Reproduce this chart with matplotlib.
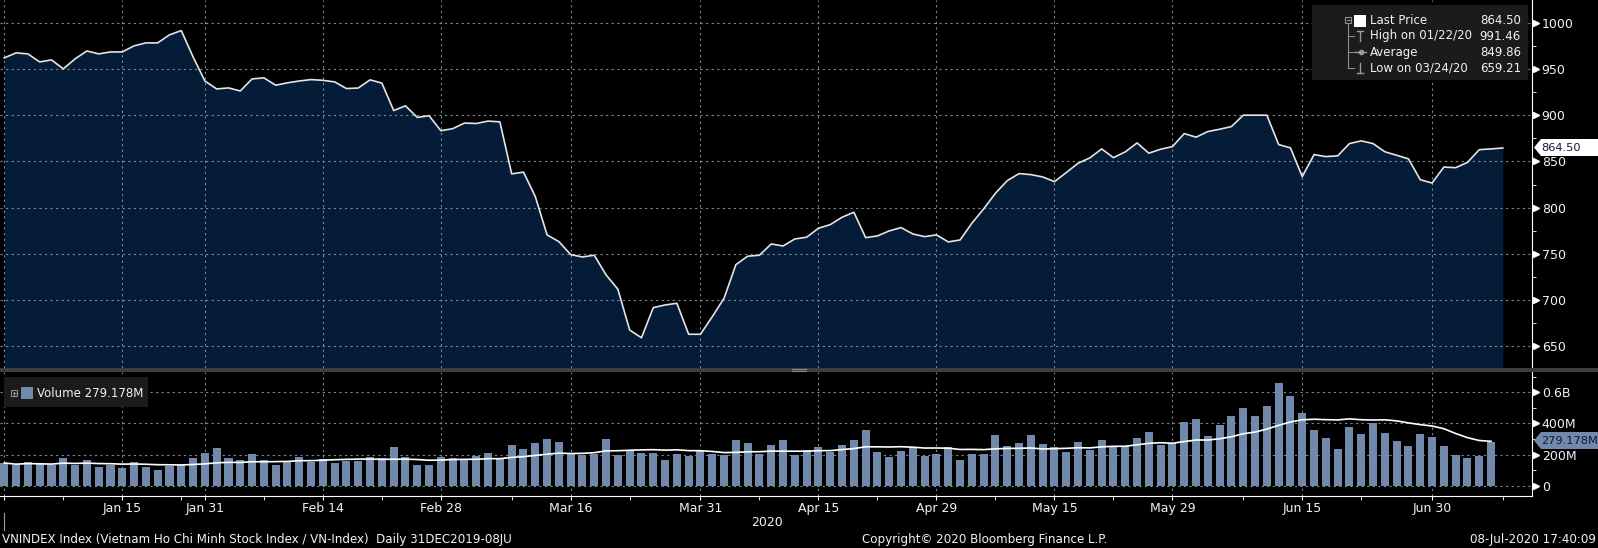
import numpy as np
import pandas as pd
import matplotlib
matplotlib.use("Agg")
import matplotlib.pyplot as plt
from matplotlib.patches import Rectangle, Polygon

# trading days (HOSE holidays removed)
holidays = ["2020-01-01", "2020-01-23", "2020-01-24", "2020-01-27", "2020-01-28",
            "2020-01-29", "2020-04-02", "2020-04-30", "2020-05-01"]
dates = pd.bdate_range("2019-12-31", "2020-07-08")
dates = dates[~dates.isin(pd.to_datetime(holidays))]

# VN-Index close
price = [
    962.0, 967.4, 966.3, 957.6, 959.8, 950.1, 960.9, 969.5, 966.3, 968.4,
    968.4, 975.0, 978.2, 978.2, 986.9, 991.5, 963.0, 937.0, 928.4, 929.5,
    926.2, 939.2, 940.4, 932.4, 935.0, 937.0, 938.5, 937.7, 936.0, 928.8,
    929.4, 938.2, 934.7, 905.0, 910.1, 897.6, 899.4, 883.2, 885.4, 891.5,
    891.0, 893.6, 892.8, 836.5, 838.4, 812.0, 770.5, 763.2, 749.2, 746.6,
    748.5, 727.2, 711.7, 667.6, 659.2, 691.8, 694.7, 696.5, 663.0, 663.0,
    682.0, 702.0, 738.3, 747.4, 748.5, 760.7, 758.5, 766.1, 768.0, 777.7,
    781.6, 789.6, 795.0, 767.5, 769.4, 774.8, 778.4, 771.5, 768.6, 770.5,
    762.9, 765.0, 783.1, 798.6, 815.6, 829.2, 836.8, 835.7, 833.2, 828.1,
    837.9, 848.0, 853.8, 863.5, 854.1, 860.3, 870.0, 858.9, 863.2, 866.0,
    880.1, 876.2, 882.3, 884.8, 887.7, 900.0, 900.0, 900.0, 868.2, 864.6,
    833.6, 857.4, 855.2, 856.0, 869.3, 872.2, 869.3, 860.4, 856.6, 852.8,
    830.2, 826.6, 843.9, 843.2, 848.9, 862.7, 863.5, 864.5,
]

# volume in millions (last session not drawn on the source chart)
volume = [
    146, 131, 150, 137, 131, 176, 131, 163, 118, 131,
    112, 150, 118, 99, 125, 131, 176, 208, 240, 176,
    163, 201, 163, 131, 150, 182, 150, 169, 144, 157,
    157, 182, 176, 252, 182, 131, 131, 182, 176, 174,
    188, 208, 169, 265, 233, 272, 303, 278, 212, 197,
    201, 303, 197, 222, 208, 208, 163, 201, 188, 222,
    201, 195, 297, 272, 201, 265, 291, 195, 227, 252,
    214, 265, 297, 361, 218, 185, 224, 247, 192, 204,
    249, 166, 204, 204, 326, 256, 275, 326, 268, 249,
    217, 281, 230, 294, 256, 256, 304, 348, 262, 276,
    412, 432, 320, 390, 448, 500, 448, 513, 660, 577,
    467, 358, 307, 236, 377, 332, 403, 339, 287, 255,
    332, 313, 255, 197, 178, 191, 279,
]
last_volume = "279.178M"

major_dates = ["2020-01-15", "2020-01-31", "2020-02-14", "2020-02-28", "2020-03-16",
               "2020-03-31", "2020-04-15", "2020-04-29", "2020-05-15", "2020-05-29",
               "2020-06-15", "2020-06-30"]
minor_dates = ["2020-01-08", "2020-01-22", "2020-02-07", "2020-02-21", "2020-03-09",
               "2020-03-23", "2020-04-08", "2020-04-22", "2020-05-08", "2020-05-22",
               "2020-06-08", "2020-06-22", "2020-07-08"]

price_ticks = [650, 700, 750, 800, 850, 900, 950, 1000]
vol_ticks = [0, 200, 400, 600]
vol_tick_labels = ["0", "200M", "400M", "0.6B"]

legend_names = ["Last Price", "High on 01/22/20", "Average", "Low on 03/24/20"]
legend_vals = ["864.50", "991.46", "849.86", "659.21"]

idx = {d: i for i, d in enumerate(dates)}
major_idx = [idx[pd.Timestamp(d)] for d in major_dates]
minor_idx = [idx[pd.Timestamp(d)] for d in minor_dates]
major_lbl = [f"{pd.Timestamp(d):%b} {pd.Timestamp(d).day}" for d in major_dates]

W, H = 1598, 548
fig = plt.figure(figsize=(W / 100, H / 100), dpi=100, facecolor="black")
plt.rcParams["font.family"] = ["DejaVu Sans"]

def px_axes(left, top, right, bottom):
    return fig.add_axes([left / W, 1 - bottom / H, (right - left) / W, (bottom - top) / H])

NAVY = "#041c38"
BAR = "#7189ab"
GRID = "#7d8796"
TXT = "#f2f2f2"
dash = (0, (2, 3))
xlim = (-0.364, 129.47)

# ---- price panel
ax = px_axes(0, 0, 1532, 368)
ax.set_facecolor("black")
x = np.arange(len(price))
ax.fill_between(x, price, 500, color=NAVY, lw=0, zorder=1)
ax.plot(x, price, color="#e4e4e4", lw=1.2, zorder=3)
ax.set_xlim(*xlim)
ax.set_ylim(626.5, 1024.6)
ax.yaxis.tick_right()
ax.set_yticks(price_ticks)
ax.set_yticks(np.arange(675, 1001, 50), minor=True)
ax.set_xticks([0] + major_idx)
ax.tick_params(axis="x", which="both", length=0, labelbottom=False)
ax.tick_params(axis="y", which="major", length=0, pad=7, labelsize=9, labelcolor=TXT)
ax.tick_params(axis="y", which="minor", length=3, color="white")
ax.grid(True, which="major", color=GRID, ls=dash, lw=0.8, zorder=2)
ax.set_axisbelow(False)
for s in ["left", "top", "bottom"]:
    ax.spines[s].set_visible(False)
ax.spines["right"].set_color("white")
ax.plot(np.full(len(price_ticks), 1 + 4 / 1532), price_ticks, ls="none", marker=">",
        ms=4, color="white", transform=ax.get_yaxis_transform(), clip_on=False)

# ---- volume panel
axv = px_axes(0, 372, 1532, 496)
axv.set_facecolor("black")
xv = np.arange(len(volume))
axv.bar(xv, volume, width=0.68, color=BAR, zorder=2)
ma = pd.Series(volume).rolling(15, min_periods=1).mean()
axv.plot(xv, ma, color="white", lw=1.2, zorder=3)
axv.set_xlim(*xlim)
axv.set_ylim(-66, 731)
axv.yaxis.tick_right()
axv.set_yticks(vol_ticks)
axv.set_yticklabels(vol_tick_labels)
axv.set_yticks([100, 300, 500, 700], minor=True)
axv.set_xticks([0] + major_idx)
axv.set_xticklabels([""] + major_lbl)
axv.set_xticks(minor_idx, minor=True)
axv.tick_params(axis="x", which="both", direction="out", length=3, color="white",
                labelsize=9, labelcolor=TXT, pad=1)
axv.tick_params(axis="y", which="major", length=0, pad=7, labelsize=9, labelcolor=TXT)
axv.tick_params(axis="y", which="minor", length=3, color="white")
axv.grid(True, which="major", color=GRID, ls=dash, lw=0.8, zorder=1)
for s in ["left", "top"]:
    axv.spines[s].set_visible(False)
axv.spines["right"].set_color("white")
axv.spines["bottom"].set_color("white")
axv.plot(np.full(len(vol_ticks), 1 + 4 / 1532), vol_ticks, ls="none", marker=">",
         ms=4, color="white", transform=axv.get_yaxis_transform(), clip_on=False)

# ---- overlay in pixel coordinates
ov = fig.add_axes([0, 0, 1, 1])
ov.set_xlim(0, W)
ov.set_ylim(H, 0)
ov.axis("off")

ov.add_patch(Rectangle((0, 368), W, 4, fc="#3d3d3d", ec="none"))
ov.plot([792, 806], [369, 369], color="#8a8a8a", lw=0.8)
ov.plot([792, 806], [371, 371], color="#8a8a8a", lw=0.8)

# price legend
ov.add_patch(Rectangle((1312, 5), 216, 75, fc="#1b1b1b", ec="none"))
rows = [20.7, 36, 52.3, 68.3]
for yy, n, v in zip(rows, legend_names, legend_vals):
    ov.text(1370, yy, n, ha="left", va="center", color=TXT, fontsize=8.5)
    ov.text(1521, yy, v, ha="right", va="center", color=TXT, fontsize=8.5)
ov.add_patch(Rectangle((1345, 17), 6, 6, fc="none", ec="#8c8c8c", lw=0.8))
ov.plot([1346.5, 1349.5], [20, 20], color="#8c8c8c", lw=0.8)
ov.plot([1348, 1348], [23, 68.3], color="#8c8c8c", lw=0.8)
for yy in rows[1:]:
    ov.plot([1348, 1354], [yy, yy], color="#8c8c8c", lw=0.8)
ov.add_patch(Rectangle((1354, 15), 12, 12, fc="white", ec="none"))
ov.plot([1357, 1363], [31, 31], color="#9a9a9a", lw=1)
ov.plot([1360, 1360], [31, 41], color="#9a9a9a", lw=1)
ov.plot([1355, 1366], [52.3, 52.3], color="#9a9a9a", lw=1)
ov.plot([1360.5], [52.3], marker="o", ms=3, color="#9a9a9a")
ov.plot([1360, 1360], [63, 73], color="#9a9a9a", lw=1)
ov.plot([1357, 1363], [73, 73], color="#9a9a9a", lw=1)

# volume legend
ov.add_patch(Rectangle((4, 377), 144, 30, fc="#1b1b1b", ec="none"))
ov.add_patch(Rectangle((11, 390), 6, 6, fc="none", ec="#8c8c8c", lw=0.8))
ov.plot([12.5, 15.5], [393, 393], color="#8c8c8c", lw=0.8)
ov.plot([14, 14], [391.5, 394.5], color="#8c8c8c", lw=0.8)
ov.add_patch(Rectangle((21, 387), 12, 12, fc=BAR, ec="none"))
ov.text(37, 393.5, f"Volume {last_volume}", ha="left", va="center", color=TXT, fontsize=8.5)

# last value tags on the right axes
def tag(yc, text, fc):
    ov.add_patch(Polygon([(1534, yc), (1541, yc - 8.5), (1598, yc - 8.5),
                          (1598, yc + 8.5), (1541, yc + 8.5)], closed=True,
                         fc=fc, ec="none"))
    ov.text(1541, yc + 0.5, text, ha="left", va="center", color="#0c1a33", fontsize=8.2)

tag(147.5, legend_vals[0], "white")
tag(440.5, last_volume, BAR)

# footer
ov.text(767, 523, "2020", ha="center", va="center", color=TXT, fontsize=9)
ov.plot([4, 4], [513, 530], color="#9a9a9a", lw=0.8)
ov.text(2, 539, "VNINDEX Index (Vietnam Ho Chi Minh Stock Index / VN-Index)  Daily 31DEC2019-08JU",
        ha="left", va="center", color=TXT, fontsize=8.6)
ov.text(1107, 539, "Copyright\u00a9 2020 Bloomberg Finance L.P.", ha="right", va="center",
        color=TXT, fontsize=8.6)
ov.text(1596, 539, "08-Jul-2020 17:40:09", ha="right", va="center", color=TXT, fontsize=8.6)

fig.savefig("out.png", dpi=100, facecolor="black")
